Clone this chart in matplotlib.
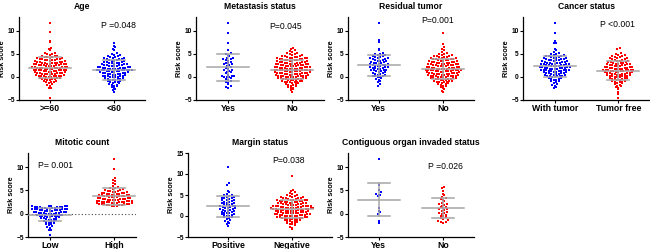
import numpy as np
import matplotlib
matplotlib.use("Agg")
import matplotlib.pyplot as plt

plt.rcParams["font.family"] = ["Liberation Sans", "DejaVu Sans"]

RED = "#FF0000"
BLUE = "#0000FF"
GRAY = "#A6A6A6"

# ---- data (risk scores) ----
age_ge60 = [11.7, 9.7, 7.9, 7.6, 6.2, 6.0, 5.9,
            5.3, 5.1, 5.0, 4.9, 4.8,
            4.6, 4.5, 4.5, 4.4, 4.4, 4.3, 4.2, 4.1,
            4.0, 3.9, 3.9, 3.8, 3.8, 3.7, 3.7, 3.6, 3.6, 3.5,
            3.4, 3.4, 3.3, 3.3, 3.2, 3.2, 3.1, 3.1, 3.0, 3.0, 3.0, 2.9, 2.9,
            2.8, 2.8, 2.7, 2.7, 2.7, 2.6, 2.6, 2.5, 2.5, 2.5, 2.4, 2.4, 2.3, 2.3,
            2.2, 2.2, 2.1, 2.1, 2.1, 2.0, 2.0, 2.0, 1.9, 1.9, 1.9, 1.8, 1.8, 1.7, 1.7,
            1.6, 1.6, 1.5, 1.5, 1.5, 1.4, 1.4, 1.4, 1.3, 1.3, 1.2, 1.2, 1.1, 1.1,
            1.0, 1.0, 0.9, 0.9, 0.9, 0.8, 0.8, 0.7, 0.7, 0.7, 0.6, 0.6, 0.5,
            0.4, 0.4, 0.3, 0.3, 0.2, 0.2, 0.2, 0.1, 0.1, 0.0, 0.0, -0.1,
            -0.2, -0.3, -0.3, -0.4, -0.4, -0.5, -0.5, -0.6, -0.7,
            -0.8, -0.9, -1.0, -1.1, -1.2, -1.3,
            -1.5, -1.7, -1.9, -2.3, -2.5, -4.6]
age_lt60 = [7.4, 6.8, 6.4, 6.1, 5.8,
            5.2, 5.0, 4.8, 4.7,
            4.6, 4.5, 4.4, 4.3, 4.2, 4.1,
            4.0, 3.9, 3.8, 3.8, 3.7, 3.6, 3.5, 3.5,
            3.4, 3.3, 3.3, 3.2, 3.1, 3.1, 3.0, 3.0, 2.9,
            2.8, 2.8, 2.7, 2.6, 2.6, 2.5, 2.5, 2.4, 2.4, 2.3, 2.3,
            2.2, 2.2, 2.1, 2.1, 2.0, 2.0, 2.0, 1.9, 1.9, 1.8, 1.8, 1.8, 1.7, 1.7,
            1.6, 1.6, 1.6, 1.5, 1.5, 1.5, 1.4, 1.4, 1.4, 1.3, 1.3, 1.2, 1.2, 1.1, 1.1,
            1.0, 1.0, 0.9, 0.9, 0.8, 0.8, 0.7, 0.7, 0.6, 0.6, 0.5, 0.5,
            0.4, 0.3, 0.3, 0.2, 0.1, 0.1, 0.0, 0.0, -0.1, -0.1,
            -0.2, -0.3, -0.4, -0.4, -0.5, -0.6, -0.6, -0.7,
            -0.8, -0.9, -1.0, -1.1, -1.2, -1.3,
            -1.4, -1.5, -1.7, -1.8, -1.9, -2.0, -2.2, -2.4, -2.6, -2.9, -3.2]

meta_yes = [11.7, 9.6, 7.4, 5.8, 5.3, 5.0, 4.8, 4.5, 4.2, 4.0, 3.9, 3.8, 3.6, 3.5, 3.3,
            3.1, 3.0, 2.8, 2.7, 2.5, 2.3, 2.1, 2.0, 1.8, 1.6, 1.5, 1.3, 1.1, 1.0, 0.8,
            0.5, 0.3, 0.2, 0.1, 0.0, 0.0, -0.1, -0.2, -0.4, -0.6, -0.8, -1.0, -1.3,
            -1.6, -2.0, -2.2, -2.5]
meta_no = [6.3, 6.1, 5.9, 5.6, 5.4,
           5.2, 5.1, 5.0, 4.9, 4.8, 4.7,
           4.6, 4.6, 4.5, 4.4, 4.4, 4.3, 4.2, 4.2, 4.1,
           4.0, 4.0, 3.9, 3.9, 3.8, 3.8, 3.7, 3.7, 3.6, 3.6, 3.5, 3.5,
           3.4, 3.4, 3.3, 3.3, 3.2, 3.2, 3.1, 3.1, 3.0, 3.0, 2.9, 2.9, 2.9,
           2.8, 2.8, 2.7, 2.7, 2.6, 2.6, 2.6, 2.5, 2.5, 2.4, 2.4, 2.3, 2.3, 2.3,
           2.2, 2.2, 2.1, 2.1, 2.1, 2.0, 2.0, 2.0, 1.9, 1.9, 1.8, 1.8, 1.8, 1.7, 1.7,
           1.6, 1.6, 1.5, 1.5, 1.5, 1.4, 1.4, 1.4, 1.3, 1.3, 1.2, 1.2, 1.2, 1.1, 1.1,
           1.0, 1.0, 0.9, 0.9, 0.9, 0.8, 0.8, 0.8, 0.7, 0.7, 0.6, 0.6, 0.6, 0.5, 0.5,
           0.4, 0.4, 0.3, 0.3, 0.3, 0.2, 0.2, 0.1, 0.1, 0.0, 0.0, 0.0, -0.1, -0.1,
           -0.2, -0.2, -0.3, -0.3, -0.4, -0.4, -0.5, -0.5, -0.6, -0.6, -0.7, -0.7,
           -0.8, -0.8, -0.9, -1.0, -1.0, -1.1, -1.2, -1.2, -1.3,
           -1.4, -1.5, -1.6, -1.7, -1.8, -1.9,
           -2.0, -2.1, -2.3, -2.4, -2.7, -2.9, -3.2]

resid_yes = [11.7, 8.0, 7.6, 6.0, 5.9,
             5.2, 5.0, 4.9, 4.8, 4.7,
             4.6, 4.5, 4.4, 4.3, 4.2, 4.1,
             4.0, 3.9, 3.8, 3.7, 3.6, 3.5, 3.5,
             3.4, 3.3, 3.2, 3.1, 3.0, 3.0, 2.9,
             2.8, 2.7, 2.6, 2.6, 2.5, 2.4, 2.4, 2.3,
             2.2, 2.1, 2.1, 2.0, 1.9, 1.9, 1.8, 1.7,
             1.6, 1.5, 1.4, 1.4, 1.3, 1.2, 1.1,
             1.0, 0.9, 0.8, 0.7, 0.6, 0.5,
             0.4, 0.3, 0.2, 0.1, 0.0, -0.1,
             -0.2, -0.4, -0.6, -0.9, -1.2, -1.5, -1.9]
resid_no = [9.6, 7.2, 6.4, 6.1, 5.8, 5.5,
            5.2, 5.0, 4.9, 4.8, 4.7,
            4.6, 4.5, 4.5, 4.4, 4.3, 4.3, 4.2, 4.1,
            4.0, 3.9, 3.9, 3.8, 3.8, 3.7, 3.6, 3.6, 3.5, 3.5,
            3.4, 3.4, 3.3, 3.3, 3.2, 3.2, 3.1, 3.1, 3.0, 3.0, 2.9, 2.9,
            2.8, 2.8, 2.7, 2.7, 2.6, 2.6, 2.5, 2.5, 2.5, 2.4, 2.4, 2.3, 2.3,
            2.2, 2.2, 2.1, 2.1, 2.0, 2.0, 2.0, 1.9, 1.9, 1.8, 1.8, 1.8, 1.7, 1.7,
            1.6, 1.6, 1.5, 1.5, 1.5, 1.4, 1.4, 1.4, 1.3, 1.3, 1.2, 1.2, 1.2, 1.1, 1.1,
            1.0, 1.0, 0.9, 0.9, 0.9, 0.8, 0.8, 0.7, 0.7, 0.7, 0.6, 0.6, 0.5, 0.5,
            0.4, 0.4, 0.3, 0.3, 0.3, 0.2, 0.2, 0.1, 0.1, 0.0, 0.0, -0.1, -0.1,
            -0.2, -0.2, -0.3, -0.3, -0.4, -0.4, -0.5, -0.5, -0.6, -0.6, -0.7,
            -0.8, -0.8, -0.9, -1.0, -1.0, -1.1, -1.2, -1.3,
            -1.4, -1.5, -1.6, -1.7, -1.9,
            -2.0, -2.2, -2.4, -2.7, -3.0, -3.2]

cancer_with = [11.7, 9.6, 7.8, 7.4, 7.3, 6.0, 5.8, 5.5,
               5.2, 5.0, 4.9, 4.8, 4.7,
               4.6, 4.5, 4.5, 4.4, 4.3, 4.2, 4.2, 4.1,
               4.0, 3.9, 3.9, 3.8, 3.7, 3.7, 3.6, 3.6, 3.5,
               3.4, 3.4, 3.3, 3.3, 3.2, 3.1, 3.1, 3.0, 3.0, 2.9, 2.9,
               2.8, 2.8, 2.7, 2.7, 2.6, 2.6, 2.5, 2.5, 2.4, 2.4, 2.3, 2.3,
               2.2, 2.2, 2.1, 2.1, 2.0, 2.0, 2.0, 1.9, 1.9, 1.8, 1.8, 1.7, 1.7,
               1.6, 1.6, 1.5, 1.5, 1.4, 1.4, 1.3, 1.3, 1.2, 1.2, 1.1, 1.1,
               1.0, 1.0, 0.9, 0.9, 0.8, 0.8, 0.7, 0.7, 0.6, 0.5,
               0.4, 0.4, 0.3, 0.3, 0.2, 0.1, 0.1, 0.0, -0.1,
               -0.2, -0.3, -0.4, -0.5, -0.6, -0.7,
               -0.8, -0.9, -1.1, -1.3,
               -1.5, -1.7, -1.9, -2.1, -2.3]
cancer_free = [6.3, 6.1,
               5.2, 5.0, 4.8, 4.7,
               4.6, 4.5, 4.4, 4.3, 4.2, 4.1,
               4.0, 3.9, 3.8, 3.7, 3.6, 3.5, 3.5,
               3.4, 3.3, 3.3, 3.2, 3.1, 3.1, 3.0, 2.9, 2.9,
               2.8, 2.8, 2.7, 2.6, 2.6, 2.5, 2.5, 2.4, 2.3, 2.3,
               2.2, 2.2, 2.1, 2.1, 2.0, 2.0, 1.9, 1.9, 1.8, 1.8, 1.7, 1.7,
               1.6, 1.6, 1.5, 1.5, 1.4, 1.4, 1.4, 1.3, 1.3, 1.2, 1.2, 1.1, 1.1,
               1.0, 1.0, 0.9, 0.9, 0.8, 0.8, 0.7, 0.7, 0.6, 0.6, 0.5, 0.5,
               0.4, 0.4, 0.3, 0.3, 0.2, 0.2, 0.1, 0.0, 0.0, -0.1,
               -0.2, -0.3, -0.3, -0.4, -0.5, -0.5, -0.6, -0.7,
               -0.8, -0.9, -1.0, -1.1, -1.2, -1.3,
               -1.4, -1.5, -1.7, -1.9,
               -2.0, -2.2, -2.4, -2.7, -3.3, -3.8, -4.6]

mitotic_low = [1.7, 1.7,
               1.6, 1.6, 1.6, 1.5, 1.5, 1.5, 1.4, 1.4, 1.4, 1.3, 1.3, 1.2, 1.2,
               1.1, 1.1,
               1.0, 1.0, 1.0, 0.9, 0.9, 0.9, 0.8, 0.8, 0.8, 0.7, 0.7, 0.6, 0.6,
               0.5, 0.5,
               0.4, 0.4, 0.3, 0.3, 0.3, 0.2, 0.2, 0.1, 0.1, 0.1, 0.0, 0.0,
               -0.1, -0.1,
               -0.2, -0.3, -0.3, -0.4, -0.4, -0.5, -0.5, -0.6, -0.6, -0.7, -0.7,
               -0.8, -0.9, -0.9, -1.0, -1.1, -1.2, -1.3, -1.3,
               -1.4, -1.5, -1.6, -1.7, -1.8, -1.9,
               -2.0, -2.2, -2.3, -2.5,
               -2.7, -2.9, -3.1, -3.4, -3.6, -4.6]
mitotic_high = [11.7, 9.6, 7.6, 7.3, 7.0, 6.6, 6.3, 6.0,
                5.8, 5.6, 5.4, 5.3,
                5.2, 5.1, 5.0, 4.9, 4.9, 4.8, 4.7, 4.7,
                4.6, 4.5, 4.5, 4.4, 4.4, 4.3, 4.3, 4.2, 4.2, 4.1, 4.1,
                4.0, 4.0, 3.9, 3.9, 3.8, 3.8, 3.7, 3.7, 3.7, 3.6, 3.6, 3.5, 3.5,
                3.4, 3.4, 3.3, 3.3, 3.2, 3.2, 3.1, 3.1, 3.1, 3.0, 3.0, 3.0,
                2.9, 2.9,
                2.8, 2.8, 2.7, 2.7, 2.7, 2.6, 2.6, 2.5, 2.5, 2.5, 2.4, 2.4, 2.3, 2.3,
                2.3,
                2.2, 2.2, 2.1, 2.1, 2.1, 2.0, 2.0, 2.0, 1.9, 1.9, 1.8, 1.8, 1.7, 1.7,
                1.7, 1.6, 1.6, 1.6]

margin_pos = [11.7, 7.8, 7.3, 6.0, 5.6,
              5.2, 5.0, 4.9, 4.7,
              4.6, 4.5, 4.4, 4.3, 4.2,
              4.0, 3.9, 3.8, 3.7, 3.5,
              3.4, 3.3, 3.2, 3.1, 3.0, 2.9,
              2.8, 2.7, 2.6, 2.5, 2.4, 2.3,
              2.2, 2.1, 2.0, 1.9, 1.8, 1.7,
              1.6, 1.5, 1.4, 1.3, 1.2, 1.1,
              1.0, 0.9, 0.8, 0.7, 0.6, 0.5,
              0.4, 0.3, 0.2, 0.1, 0.0,
              -0.2, -0.3, -0.5, -0.7,
              -0.9, -1.1, -1.4, -1.7, -2.0, -2.3]
margin_neg = [9.6, 6.3, 6.0, 5.7, 5.4,
              5.2, 5.0, 4.9, 4.8, 4.7,
              4.6, 4.5, 4.5, 4.4, 4.3, 4.3, 4.2, 4.1,
              4.0, 3.9, 3.9, 3.8, 3.8, 3.7, 3.6, 3.6, 3.5, 3.5,
              3.4, 3.4, 3.3, 3.3, 3.2, 3.2, 3.1, 3.1, 3.0, 3.0, 2.9, 2.9,
              2.8, 2.8, 2.7, 2.7, 2.6, 2.6, 2.5, 2.5, 2.5, 2.4, 2.4, 2.3, 2.3,
              2.2, 2.2, 2.1, 2.1, 2.0, 2.0, 2.0, 1.9, 1.9, 1.8, 1.8, 1.8, 1.7, 1.7,
              1.6, 1.6, 1.5, 1.5, 1.5, 1.4, 1.4, 1.4, 1.3, 1.3, 1.2, 1.2, 1.2, 1.1, 1.1,
              1.0, 1.0, 0.9, 0.9, 0.9, 0.8, 0.8, 0.7, 0.7, 0.7, 0.6, 0.6, 0.5, 0.5,
              0.4, 0.4, 0.3, 0.3, 0.3, 0.2, 0.2, 0.1, 0.1, 0.0, 0.0, -0.1, -0.1,
              -0.2, -0.2, -0.3, -0.3, -0.4, -0.4, -0.5, -0.5, -0.6, -0.6, -0.7,
              -0.8, -0.8, -0.9, -1.0, -1.0, -1.1, -1.2, -1.3,
              -1.4, -1.5, -1.6, -1.7, -1.9,
              -2.0, -2.2, -2.5, -2.8, -3.2]

contig_yes = [11.7, 6.2, 5.1, 4.6, 4.3, 4.1, 4.0, 3.8, 1.3, 0.5, 0.3, 0.0, -1.6, -2.0]
contig_no = [5.7, 5.4, 4.8, 4.2, 3.9, 3.6, 3.4, 3.1, 3.0, 2.7, 2.3, 2.1, 2.0, 1.9,
             1.7, 1.5, 1.4, 1.2, 1.0, 0.9, 0.7, 0.6, 0.4, 0.2, 0.1, 0.0, -0.2, -0.4,
             -0.6, -0.8, -1.0, -1.2, -1.4, -1.5, -1.7, -1.8, -1.9, -2.0]

# (title, labels, groups, colors, p text, p position, pixel box, xlim, ylim, yticks)
W, H = 650, 249
panels = [
    ("Age", [">=60", "<60"], [age_ge60, age_lt60], [RED, BLUE],
     "P =0.048", (1.06, 11.1), (19, 17, 145, 100), (-0.48, 1.48), (-5, 13), [-5, 0, 5, 10]),
    ("Metastasis status", ["Yes", "No"], [meta_yes, meta_no], [BLUE, RED],
     "P=0.045", (0.90, 10.9), (196, 17, 324, 100), (-0.5, 1.5), (-5, 13), [-5, 0, 5, 10]),
    ("Residual tumor", ["Yes", "No"], [resid_yes, resid_no], [BLUE, RED],
     "P=0.001", (0.92, 12.2), (348, 17, 474, 100), (-0.48, 1.48), (-5, 13), [-5, 0, 5, 10]),
    ("Cancer status", ["With tumor", "Tumor free"], [cancer_with, cancer_free], [BLUE, RED],
     "P <0.001", (0.98, 11.3), (523, 17, 650, 100), (-0.5, 1.5), (-5, 13), [-5, 0, 5, 10]),
    ("Mitotic count", ["Low", "High"], [mitotic_low, mitotic_high], [BLUE, RED],
     "P= 0.001", (0.08, 10.4), (28, 153, 136, 237), (-0.34, 1.34), (-5, 13), [-5, 0, 5, 10]),
    ("Margin status", ["Positive", "Negative"], [margin_pos, margin_neg], [BLUE, RED],
     "P=0.038", (0.94, 13.3), (188, 153, 332, 237), (-0.62, 1.62), (-5, 15), [-5, 0, 5, 10, 15]),
    ("Contiguous organ invaded status", ["Yes", "No"], [contig_yes, contig_no], [BLUE, RED],
     "P =0.026", (1.03, 10.2), (348, 153, 474, 237), (-0.48, 1.48), (-5, 13), [-5, 0, 5, 10]),
]


def row_offsets(vals, dx, binh, shift=0.15):
    """Prism-like scatter: points of one y row spread sideways from the centre."""
    vals = np.asarray(vals, dtype=float)
    rows = np.floor((vals + shift) / binh).astype(int)
    off = np.zeros(len(vals))
    for r in np.unique(rows):
        idx = np.where(rows == r)[0]
        idx = idx[np.argsort(vals[idx], kind="stable")]
        k = len(idx)
        slots = np.arange(k) - (k - 1) / 2
        slots = slots[np.argsort(np.abs(slots), kind="stable")]
        off[idx] = slots * dx
    return off


fig = plt.figure(figsize=(W / 100, H / 100), dpi=100)

for title, labels, groups, colors, ptext, ppos, box, xlim, ylim, yticks in panels:
    l, t, r, b = box
    ax = fig.add_axes([l / W, 1 - b / H, (r - l) / W, (b - t) / H])
    px_x = (r - l) / (xlim[1] - xlim[0])
    px_y = (b - t) / (ylim[1] - ylim[0])
    dx = 2.5 / px_x
    binh = 2.8 / px_y

    if title == "Mitotic count":
        ax.axhline(0, color="#444444", ls=(0, (1, 2)), lw=0.8, zorder=1)

    for i, (g, c) in enumerate(zip(groups, colors)):
        xs = i + row_offsets(g, dx, binh)
        ax.scatter(xs, g, s=2.4, marker="s", color=c, linewidths=0, zorder=3)

    # mean and SD bars
    for i, g in enumerate(groups):
        m = np.mean(g)
        sd = np.std(g, ddof=1)
        ax.plot([i - 0.33, i + 0.33], [m, m], color=GRAY, lw=1.1, zorder=5)
        ax.plot([i - 0.17, i + 0.17], [m + sd, m + sd], color=GRAY, lw=1.1, zorder=5)
        ax.plot([i - 0.17, i + 0.17], [m - sd, m - sd], color=GRAY, lw=1.1, zorder=5)
        ax.plot([i, i], [m - sd, m + sd], color=GRAY, lw=1.1, zorder=5)

    ax.text(ppos[0], ppos[1], ptext, ha="center", va="center", fontsize=6.2)

    ax.set_xlim(*xlim)
    ax.set_ylim(*ylim)
    ax.set_yticks(yticks)
    ax.set_xticks([0, 1])
    ax.set_xticklabels(labels, fontsize=6.3, fontweight="bold")
    ax.tick_params(axis="y", labelsize=4.8, length=2, width=0.8, pad=1)
    ax.tick_params(axis="x", length=2, width=0.8, pad=1)
    for lab in ax.get_yticklabels():
        lab.set_fontweight("bold")
    ax.set_ylabel("Risk score", fontsize=5.2, fontweight="bold", labelpad=1)
    ax.set_title(title, fontsize=6.2, fontweight="bold", pad=6)
    for s in ("top", "right"):
        ax.spines[s].set_visible(False)
    for s in ("left", "bottom"):
        ax.spines[s].set_linewidth(0.9)
    ax.set_facecolor("none")

fig.savefig("out.png", dpi=100)
